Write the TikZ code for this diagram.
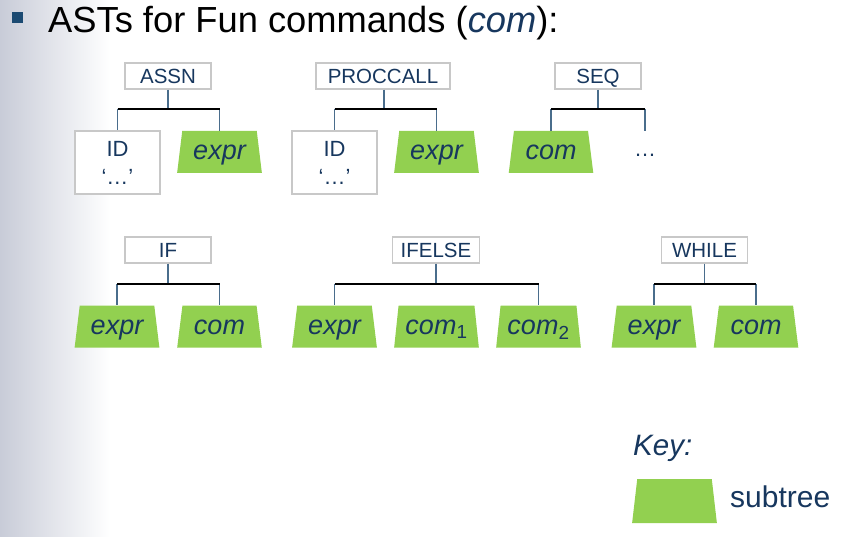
\documentclass[tikz,border=0pt]{standalone}
\usepackage{fontspec}
\setmainfont{Liberation Sans}
\usetikzlibrary{shapes.geometric}

\definecolor{navy}{HTML}{17375E}
\definecolor{leaf}{HTML}{92D050}
\definecolor{boxline}{HTML}{C8C8C8}
\definecolor{stem}{HTML}{4A6D8C}
\definecolor{bulletblue}{HTML}{1B4A72}
\definecolor{shadeL}{HTML}{C8CCD8}

\tikzset{
  ctor/.style={draw=boxline, line width=1.2pt, fill=white, text=navy,
    minimum width=86pt, minimum height=26pt, inner xsep=8pt, inner ysep=0pt,
    text height=14.7pt, text depth=0pt,
    font=\fontsize{20.5}{24}\selectfont},
  idbox/.style={draw=boxline, line width=1.2pt, fill=white, text=navy,
    minimum width=85pt, minimum height=63pt, inner sep=0pt, align=center,
    font=\fontsize{22}{28}\selectfont},
  subtree/.style={trapezium, trapezium angle=77.3, trapezium stretches=true,
    fill=leaf, minimum width=85pt, minimum height=42pt, inner sep=0pt,
    outer sep=0pt, text=navy, text height=16pt, text depth=0pt,
    font=\fontsize{27}{30}\selectfont\itshape},
  stemline/.style={draw=stem, line width=1.3pt},
  barline/.style={draw=black, line width=1.3pt},
}

\begin{document}
\begin{tikzpicture}[x=1pt, y=-1pt]
  \useasboundingbox (0,0) rectangle (864,537);
  % slide background with soft grey band on the left
  \fill[white] (0,0) rectangle (864,537);
  \shade[left color=shadeL, right color=white] (0,0) rectangle (110,537);

  % heading
  \node[fill=bulletblue, minimum size=11pt, inner sep=0pt] (bullet) at (17,17.5) {};
  \node[anchor=base west, inner sep=0pt, font=\fontsize{36.3}{40}\selectfont] (title) at (48,33)
    {ASTs for Fun commands (\textcolor{navy}{\itshape com\/}):};

  % ---- ASSN ----
  \node[ctor] (assn) at (168,76) {ASSN};
  \node[idbox] (assnid) at (117.5,162.5) {ID\\‘…’};
  \node[subtree] (assnex) at (219.5,152) {expr};
  \coordinate (assnj) at (168,109);
  \draw[stemline] (assn.south) -- (assnj);
  \draw[stemline] (assnid.north |- assnj) -- (assnid.north);
  \draw[stemline] (assnex.north |- assnj) -- (assnex.north);
  \draw[barline] (assnid.north |- assnj) -- (assnex.north |- assnj);

  % ---- PROCCALL ----
  \node[ctor, minimum width=134pt] (proc) at (383,76) {PROCCALL};
  \node[idbox] (procid) at (334.5,162.5) {ID\\‘…’};
  \node[subtree] (procex) at (436.5,152) {expr};
  \coordinate (procj) at (384,109);
  \draw[stemline] (proc.south -| procj) -- (procj);
  \draw[stemline] (procid.north |- procj) -- (procid.north);
  \draw[stemline] (procex.north |- procj) -- (procex.north);
  \draw[barline] (procid.north |- procj) -- (procex.north |- procj);

  % ---- SEQ ----
  \node[ctor] (seq) at (598,76) {SEQ};
  \node[subtree] (seqcom) at (551,152) {com};
  \node[anchor=base, inner sep=0pt, text=navy, font=\fontsize{22}{25}\selectfont] (seqdots) at (645,157) {…};
  \coordinate (seqmore) at (645,131);
  \coordinate (seqj) at (598,109);
  \draw[stemline] (seq.south) -- (seqj);
  \draw[stemline] (seqcom.north |- seqj) -- (seqcom.north);
  \draw[stemline] (seqmore |- seqj) -- (seqmore);
  \draw[barline] (seqcom.north |- seqj) -- (seqmore |- seqj);

  % ---- IF ----
  \node[ctor] (if) at (168,250) {IF};
  \node[subtree] (ifex) at (117,326.5) {expr};
  \node[subtree] (ifcom) at (219.5,326.5) {com};
  \coordinate (ifj) at (168,284);
  \draw[stemline] (if.south) -- (ifj);
  \draw[stemline] (ifex.north |- ifj) -- (ifex.north);
  \draw[stemline] (ifcom.north |- ifj) -- (ifcom.north);
  \draw[barline] (ifex.north |- ifj) -- (ifcom.north |- ifj);

  % ---- IFELSE ----
  \node[ctor] (ifelse) at (436,250) {IFELSE};
  \node[subtree] (ieex) at (334.5,326.5) {expr};
  \node[subtree] (iecomA) at (436.5,326.5) {com\textsubscript{\upshape 1}};
  \node[subtree] (iecomB) at (538.5,326.5) {com\textsubscript{\upshape 2}};
  \coordinate (iej) at (436,284);
  \draw[stemline] (ifelse.south) -- (iej);
  \draw[stemline] (ieex.north |- iej) -- (ieex.north);
  \draw[stemline] (iecomB.north |- iej) -- (iecomB.north);
  \draw[barline] (ieex.north |- iej) -- (iecomB.north |- iej);

  % ---- WHILE ----
  \node[ctor] (while) at (704.5,250) {WHILE};
  \node[subtree] (wex) at (654,326.5) {expr};
  \node[subtree] (wcom) at (756,326.5) {com};
  \coordinate (wj) at (704.5,284);
  \draw[stemline] (while.south) -- (wj);
  \draw[stemline] (wex.north |- wj) -- (wex.north);
  \draw[stemline] (wcom.north |- wj) -- (wcom.north);
  \draw[barline] (wex.north |- wj) -- (wcom.north |- wj);

  % ---- key ----
  \node[anchor=base west, inner sep=0pt, text=navy, font=\fontsize{29.5}{32}\selectfont\itshape] (keyhead) at (633,455) {Key:};
  \node[subtree, minimum height=44pt] (keyshape) at (674.5,501) {\phantom{expr}};
  \node[anchor=base west, inner sep=0pt, text=navy, font=\fontsize{30}{32}\selectfont] (keytext) at (730,507) {subtree};
\end{tikzpicture}
\end{document}
